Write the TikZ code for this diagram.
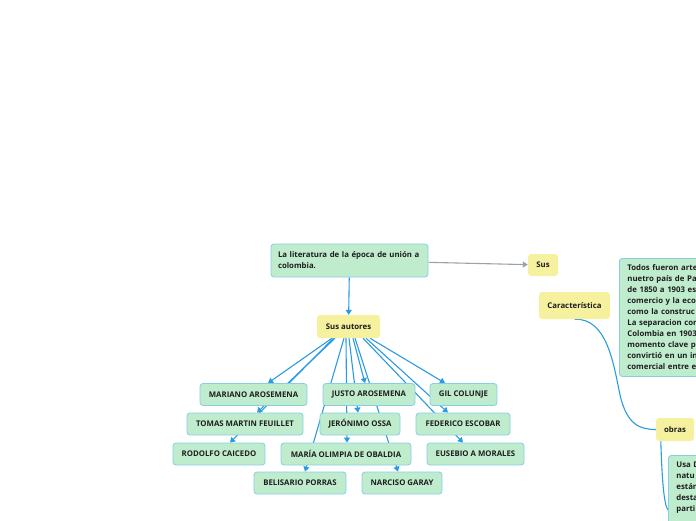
\documentclass[tikz,border=0pt]{standalone}
\usepackage{fontspec}
\setmainfont{Open Sans}
\usetikzlibrary{arrows.meta,backgrounds}
\definecolor{mintfill}{RGB}{192,236,206}
\definecolor{mintline}{RGB}{134,205,232}
\definecolor{paleyellow}{RGB}{245,241,158}
\definecolor{linkblue}{RGB}{42,155,226}
\definecolor{linkgray}{RGB}{154,163,170}
\definecolor{inkdark}{RGB}{30,30,30}

\begin{document}
\begin{tikzpicture}[
		x=1pt, y=-1pt,
		every node/.style={font=\fontsize{7.8}{11}\selectfont\bfseries, text=inkdark, rounded corners=3pt, minimum height=22pt, inner xsep=7pt, inner ysep=2pt},
		author/.style={draw=mintline, fill=mintfill, line width=0.8pt},
		topic/.style={fill=paleyellow},
		note/.style={draw=mintline, fill=mintfill, line width=0.8pt, align=left, anchor=north west, inner xsep=8pt, inner ysep=6.5pt},
		arrow/.style={-{Triangle[length=5pt,width=6pt]}, linkblue, line width=1.1pt},
		link/.style={linkblue, line width=1.1pt}
		]
		\useasboundingbox (0,0) rectangle (696,520);
		\clip (0,0) rectangle (696,520);
		
		\node[author, text width=143pt, align=left, minimum height=33pt] (tema) at (349.5,260.5) {La literatura de la época de unión a\\colombia.};
		\node[topic, minimum width=30pt] (sus) at (543,265) {Sus};
		\node[topic, minimum width=71pt, minimum height=27pt] (car) at (574.5,305.5) {Característica};
		\node[topic, minimum width=63pt, minimum height=23pt] (autores) at (348.5,326.5) {Sus autores};
		\node[topic, minimum width=38pt, minimum height=23pt] (obras) at (675,429.5) {obras};
		
		\node[note, text width=94pt] (todos) at (619,258) {Todos fueron arte\\nuetro país de Pa\\de 1850 a 1903 est\\comercio y la eco\\como la construc\\La separacion cor\\Colombia en 1903\\momento clave p\\convirtió en un in\\comercial entre e};
		\node[note, text width=44pt] (usa) at (668,455) {Usa D\\natu\\están\\desta\\parti\\\mbox{}};
		
		\node[author, minimum width=107pt] (mariano) at (253.5,394.5) {MARIANO AROSEMENA};
		\node[author, minimum width=92pt] (justo) at (369,394.5) {JUSTO AROSEMENA};
		\node[author, minimum width=67pt] (gil) at (463.5,394.5) {GIL COLUNJE};
		\node[author, minimum width=116pt] (tomas) at (245,424) {TOMAS MARTIN FEUILLET};
		\node[author, minimum width=80pt] (jeronimo) at (360,424) {JERÓNIMO OSSA};
		\node[author, minimum width=94pt] (federico) at (463,424) {FEDERICO ESCOBAR};
		\node[author, minimum width=92pt] (rodolfo) at (219,454) {RODOLFO CAICEDO};
		\node[author, minimum width=130pt] (maria) at (346,454) {MARÍA OLIMPIA DE OBALDIA};
		\node[author, minimum width=97pt] (eusebio) at (475.5,454) {EUSEBIO A MORALES};
		\node[author, minimum width=92pt] (belisario) at (300,483) {BELISARIO PORRAS};
		\node[author, minimum width=80pt] (narciso) at (402,483) {NARCISO GARAY};
		
		\begin{scope}[on background layer]
		\draw[arrow] (tema) -- (autores);
		\draw[arrow, linkgray] (tema) -- (sus);
		\draw[arrow] ([xshift=-16.5pt]autores.south) -- ([xshift=14.5pt]mariano.north);
		\draw[arrow] ([xshift=-13.5pt]autores.south) -- ([xshift=12pt]tomas.north);
		\draw[arrow] ([xshift=-15pt]autores.south) -- ([xshift=11pt]rodolfo.north);
		\draw[arrow] ([xshift=-4.5pt]autores.south) -- ([xshift=5pt]belisario.north);
		\draw[arrow] ([xshift=-2.5pt]autores.south) -- ([xshift=1pt]maria.north);
		\draw[arrow] ([xshift=0.5pt]autores.south) -- ([xshift=-2pt]jeronimo.north);
		\draw[arrow] ([xshift=4.5pt]autores.south) -- ([xshift=-4pt]justo.north);
		\draw[arrow] ([xshift=6.5pt]autores.south) -- ([xshift=-4pt]narciso.north);
		\draw[arrow] ([xshift=14.5pt]autores.south) -- ([xshift=-12.5pt]eusebio.north);
		\draw[arrow] ([xshift=17.5pt]autores.south) -- ([xshift=-15pt]federico.north);
		\draw[arrow] ([xshift=21.5pt]autores.south) -- ([xshift=-18.5pt]gil.north);
		\draw[link] (car.south) .. controls (606,318) and (613,360) .. (620,395) .. controls (627,425) and (640,429.5) .. (obras.west);
		\draw[link] ([xshift=5pt]obras.south west) .. controls (662,480) and (664,505) .. ([yshift=-55pt]usa.north west);
		\end{scope}
		
	\end{tikzpicture}
\end{document}
